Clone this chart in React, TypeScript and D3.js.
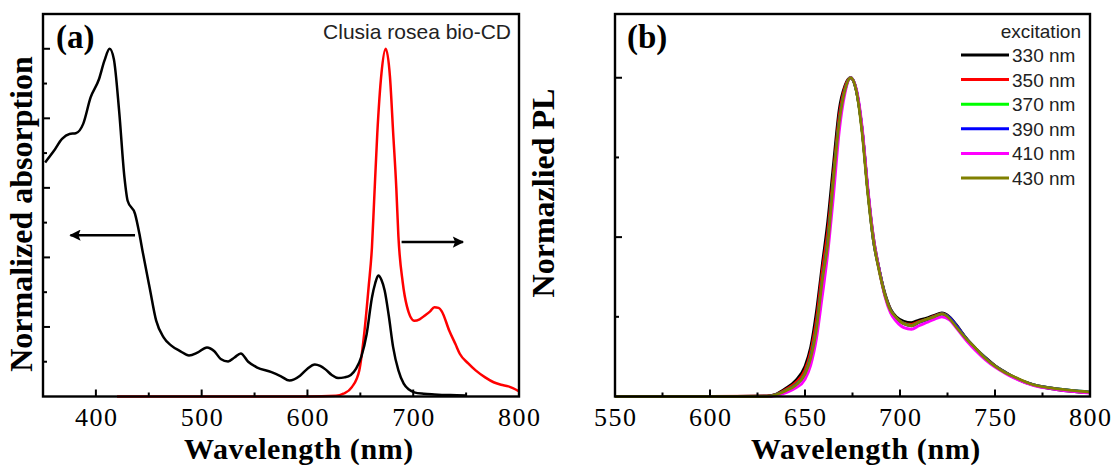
import React, { useEffect, useRef } from "react";
import * as d3 from "d3";

// ---- panel (a): absorption (black, left arrow) ----
const absWl = [352, 360, 368, 375, 381, 388, 395, 403, 408, 413, 417, 422, 427, 430, 437, 441, 444, 451, 457, 464, 471, 480, 488, 496, 505, 512, 518, 525, 531, 537, 544, 552, 566, 575, 583, 593, 600, 607, 612, 617, 623, 629, 635, 641, 646, 651, 656, 661, 664, 667, 670, 673, 677, 681, 686, 691, 696, 701, 710, 720, 735, 750];
const absVal = [0.673, 0.705, 0.741, 0.755, 0.757, 0.784, 0.86, 0.913, 0.965, 1.0, 0.97, 0.82, 0.63, 0.563, 0.525, 0.47, 0.42, 0.31, 0.218, 0.17, 0.147, 0.13, 0.118, 0.126, 0.141, 0.13, 0.108, 0.101, 0.112, 0.124, 0.1, 0.084, 0.07, 0.058, 0.046, 0.06, 0.08, 0.092, 0.088, 0.078, 0.062, 0.053, 0.055, 0.062, 0.08, 0.115, 0.18, 0.285, 0.325, 0.348, 0.335, 0.305, 0.23, 0.142, 0.075, 0.037, 0.02, 0.012, 0.008, 0.006, 0.004, 0.003];

// ---- panel (a): PL (red, right arrow) ----
const plWl = [420, 600, 627, 634, 642, 649, 654, 658, 661, 663, 666, 670, 674, 678, 681, 684, 686, 690, 694, 701, 706, 711, 716, 720, 724, 727, 734, 740, 744, 752, 759, 768, 776, 783, 790, 800];
const plVal = [0, 0, 0.002, 0.008, 0.027, 0.075, 0.19, 0.32, 0.43, 0.56, 0.755, 0.93, 1.0, 0.92, 0.76, 0.6, 0.46, 0.33, 0.26, 0.218, 0.222, 0.233, 0.245, 0.257, 0.255, 0.245, 0.19, 0.15, 0.123, 0.095, 0.075, 0.055, 0.041, 0.034, 0.029, 0.015];

// ---- panel (b): PL at several excitation wavelengths ----
const exWl = [550, 600, 630, 635, 640, 645, 650, 653, 656, 659, 662, 665, 668, 671, 674, 677, 680, 683, 686, 689, 692, 695, 698, 702, 706, 710, 714, 718, 722, 726, 730, 735, 740, 745, 750, 755, 760, 770, 780, 790, 800];
const ex330 = [0, 0, 0.002, 0.008, 0.026, 0.05, 0.095, 0.155, 0.265, 0.41, 0.55, 0.73, 0.9, 0.975, 1.0, 0.96, 0.84, 0.65, 0.5, 0.4, 0.325, 0.275, 0.25, 0.236, 0.232, 0.24, 0.246, 0.255, 0.262, 0.25, 0.222, 0.182, 0.15, 0.122, 0.097, 0.078, 0.061, 0.036, 0.024, 0.016, 0.012];
const ex350 = [0, 0, 0.001, 0.007, 0.022, 0.043, 0.083, 0.14, 0.24, 0.39, 0.52, 0.7, 0.88, 0.97, 1.0, 0.96, 0.84, 0.65, 0.49, 0.4, 0.322, 0.272, 0.246, 0.23, 0.226, 0.235, 0.242, 0.252, 0.26, 0.248, 0.22, 0.18, 0.148, 0.12, 0.096, 0.077, 0.06, 0.037, 0.026, 0.018, 0.013];
const ex370 = [0, 0, 0, 0.006, 0.019, 0.037, 0.072, 0.125, 0.215, 0.36, 0.49, 0.68, 0.86, 0.96, 1.0, 0.96, 0.84, 0.65, 0.49, 0.4, 0.32, 0.27, 0.246, 0.229, 0.223, 0.233, 0.241, 0.25, 0.259, 0.247, 0.219, 0.18, 0.149, 0.12, 0.095, 0.077, 0.06, 0.037, 0.026, 0.019, 0.014];
const ex390 = [0, 0, 0, 0.006, 0.018, 0.036, 0.07, 0.122, 0.212, 0.36, 0.485, 0.675, 0.86, 0.96, 1.0, 0.962, 0.842, 0.652, 0.49, 0.4, 0.32, 0.27, 0.245, 0.228, 0.222, 0.232, 0.24, 0.25, 0.259, 0.248, 0.22, 0.18, 0.148, 0.12, 0.095, 0.077, 0.06, 0.037, 0.026, 0.019, 0.014];
const ex410 = [0, 0, 0, 0.003, 0.012, 0.026, 0.054, 0.098, 0.18, 0.31, 0.45, 0.63, 0.83, 0.95, 1.0, 0.965, 0.85, 0.66, 0.5, 0.4, 0.315, 0.262, 0.236, 0.216, 0.211, 0.222, 0.232, 0.242, 0.25, 0.24, 0.212, 0.175, 0.143, 0.115, 0.092, 0.074, 0.058, 0.035, 0.024, 0.016, 0.011];
const ex430 = [0, 0, 0, 0.006, 0.018, 0.035, 0.07, 0.12, 0.21, 0.36, 0.48, 0.68, 0.86, 0.96, 1.0, 0.96, 0.83, 0.64, 0.49, 0.395, 0.32, 0.27, 0.248, 0.228, 0.222, 0.233, 0.242, 0.25, 0.259, 0.245, 0.215, 0.18, 0.15, 0.119, 0.095, 0.076, 0.062, 0.037, 0.026, 0.019, 0.014];
const exSeries = [ex330, ex350, ex370, ex390, ex410, ex430];
const exLabels = ["330 nm", "350 nm", "370 nm", "390 nm", "410 nm", "430 nm"];
const exColors = ["#000000", "#ff0000", "#00ff00", "#0000ff", "#ff00ff", "#808000"];

const ticksA = [400, 500, 600, 700, 800];
const minorA = [450, 550, 650, 750];
const ticksB = [550, 600, 650, 700, 750, 800];
const minorB = [575, 625, 675, 725, 775];

const SERIF = "'Liberation Serif', 'Times New Roman', serif";
const SANS = "'Liberation Sans', Arial, sans-serif";

const top = 14, bottom = 396.5;

// frame + inward ticks + bottom labels
function drawFrame(g, x, y, major, minor, yMajor, yMinor) {
  const [x0, x1] = x.range();
  g.append("rect")
    .attr("x", x0).attr("y", top)
    .attr("width", x1 - x0).attr("height", bottom - top)
    .attr("fill", "none").attr("stroke", "#000").attr("stroke-width", 2.4);

  const tk = g.append("g").attr("stroke", "#000").attr("stroke-width", 2);
  major.forEach(d => tk.append("line").attr("x1", x(d)).attr("x2", x(d)).attr("y1", bottom).attr("y2", bottom - 7));
  minor.forEach(d => tk.append("line").attr("x1", x(d)).attr("x2", x(d)).attr("y1", bottom).attr("y2", bottom - 4));
  yMajor.forEach(d => tk.append("line").attr("x1", x0).attr("x2", x0 + 7).attr("y1", y(d)).attr("y2", y(d)));
  yMinor.forEach(d => tk.append("line").attr("x1", x0).attr("x2", x0 + 4).attr("y1", y(d)).attr("y2", y(d)));

  g.append("g").selectAll("text").data(major).join("text")
    .attr("x", d => x(d) + 0.8).attr("y", 426)
    .attr("text-anchor", "middle")
    .style("font-family", SERIF).style("font-size", "26px").style("letter-spacing", "1.5px")
    .text(d => d);
}

function addArrow(svg, id) {
  svg.append("defs").append("marker")
    .attr("id", id).attr("viewBox", "0 0 10 10")
    .attr("refX", 9).attr("refY", 5)
    .attr("markerWidth", 6.5).attr("markerHeight", 4.5)
    .attr("markerUnits", "strokeWidth")
    .attr("orient", "auto")
    .append("path").attr("d", "M0,0 L10,5 L0,10 L2,5 Z").attr("fill", "#000");
}

function App() {
  const ref = useRef(null);

  useEffect(() => {
    const svg = d3.select(ref.current);
    svg.selectAll("*").remove();
    addArrow(svg, "arr");

    // ---------- panel (a) ----------
    const xa = d3.scaleLinear().domain([350, 800]).range([43, 519]);
    const ya = d3.scaleLinear().domain([0, 1.1]).range([bottom, top]);
    const ga = svg.append("g");

    const lineA = d3.line().curve(d3.curveMonotoneX);
    ga.append("path")
      .attr("d", lineA(plWl.map((w, i) => [xa(w), ya(plVal[i])])))
      .attr("fill", "none").attr("stroke", "#ff0000").attr("stroke-width", 2.5);
    ga.append("path")
      .attr("d", lineA(absWl.map((w, i) => [xa(w), ya(absVal[i])])))
      .attr("fill", "none").attr("stroke", "#000").attr("stroke-width", 2.5);

    drawFrame(ga, xa, ya, ticksA, minorA, [0.2, 0.4, 0.6, 0.8, 1.0], [0.1, 0.3, 0.5, 0.7, 0.9]);

    // arrows
    ga.append("line")
      .attr("x1", xa(437)).attr("x2", xa(376)).attr("y1", ya(0.464)).attr("y2", ya(0.464))
      .attr("stroke", "#000").attr("stroke-width", 2.5).attr("marker-end", "url(#arr)");
    ga.append("line")
      .attr("x1", xa(689)).attr("x2", xa(747)).attr("y1", ya(0.444)).attr("y2", ya(0.444))
      .attr("stroke", "#000").attr("stroke-width", 2.5).attr("marker-end", "url(#arr)");

    ga.append("text").attr("x", 56).attr("y", 48)
      .style("font-family", SERIF).style("font-weight", "bold").style("font-size", "33px")
      .text("(a)");
    ga.append("text").attr("x", 511).attr("y", 39).attr("text-anchor", "end")
      .style("font-family", SANS).style("font-size", "21px").attr("fill", "#222")
      .text("Clusia rosea bio-CD");
    ga.append("text").attr("transform", "translate(32,214) rotate(-90)").attr("text-anchor", "middle")
      .style("font-family", SERIF).style("font-weight", "bold").style("font-size", "32px")
      .text("Normalized absorption");
    ga.append("text").attr("x", 299).attr("y", 459).attr("text-anchor", "middle")
      .style("font-family", SERIF).style("font-weight", "bold").style("font-size", "30px")
      .style("letter-spacing", "0.6px")
      .text("Wavelength (nm)");

    // ---------- panel (b) ----------
    const xb = d3.scaleLinear().domain([550, 800]).range([615, 1090]);
    const yb = d3.scaleLinear().domain([0, 1.2]).range([bottom, top]);
    const gb = svg.append("g");
    const lineB = d3.line().curve(d3.curveMonotoneX);

    exSeries.forEach((vals, k) => {
      gb.append("path")
        .attr("d", lineB(exWl.map((w, i) => [xb(w), yb(vals[i])])))
        .attr("fill", "none").attr("stroke", exColors[k]).attr("stroke-width", 2.8);
    });

    drawFrame(gb, xb, yb, ticksB, minorB, [0.5, 1.0], [0.25, 0.75]);

    gb.append("text").attr("x", 627).attr("y", 48)
      .style("font-family", SERIF).style("font-weight", "bold").style("font-size", "33px")
      .text("(b)");
    gb.append("text").attr("transform", "translate(554,193) rotate(-90)").attr("text-anchor", "middle")
      .style("font-family", SERIF).style("font-weight", "bold").style("font-size", "32px")
      .text("Normazlied PL");
    gb.append("text").attr("x", 866).attr("y", 459).attr("text-anchor", "middle")
      .style("font-family", SERIF).style("font-weight", "bold").style("font-size", "30px")
      .style("letter-spacing", "0.6px")
      .text("Wavelength (nm)");

    // legend
    const lg = gb.append("g");
    lg.append("text").attr("x", 1081).attr("y", 38).attr("text-anchor", "end")
      .style("font-family", SANS).style("font-size", "19px").attr("fill", "#222")
      .text("excitation");
    exLabels.forEach((lab, k) => {
      const yy = 55 + k * 24.6;
      lg.append("line").attr("x1", 961).attr("x2", 1009).attr("y1", yy).attr("y2", yy)
        .attr("stroke", exColors[k]).attr("stroke-width", 3);
      lg.append("text").attr("x", 1012).attr("y", yy + 7)
        .style("font-family", SANS).style("font-size", "19px").attr("fill", "#222")
        .text(lab);
    });
  }, []);

  return (
    <svg ref={ref} width={1115} height={465}
      style={{ position: "absolute", left: 0, top: 0, background: "#fff" }} />
  );
}

export default App;
